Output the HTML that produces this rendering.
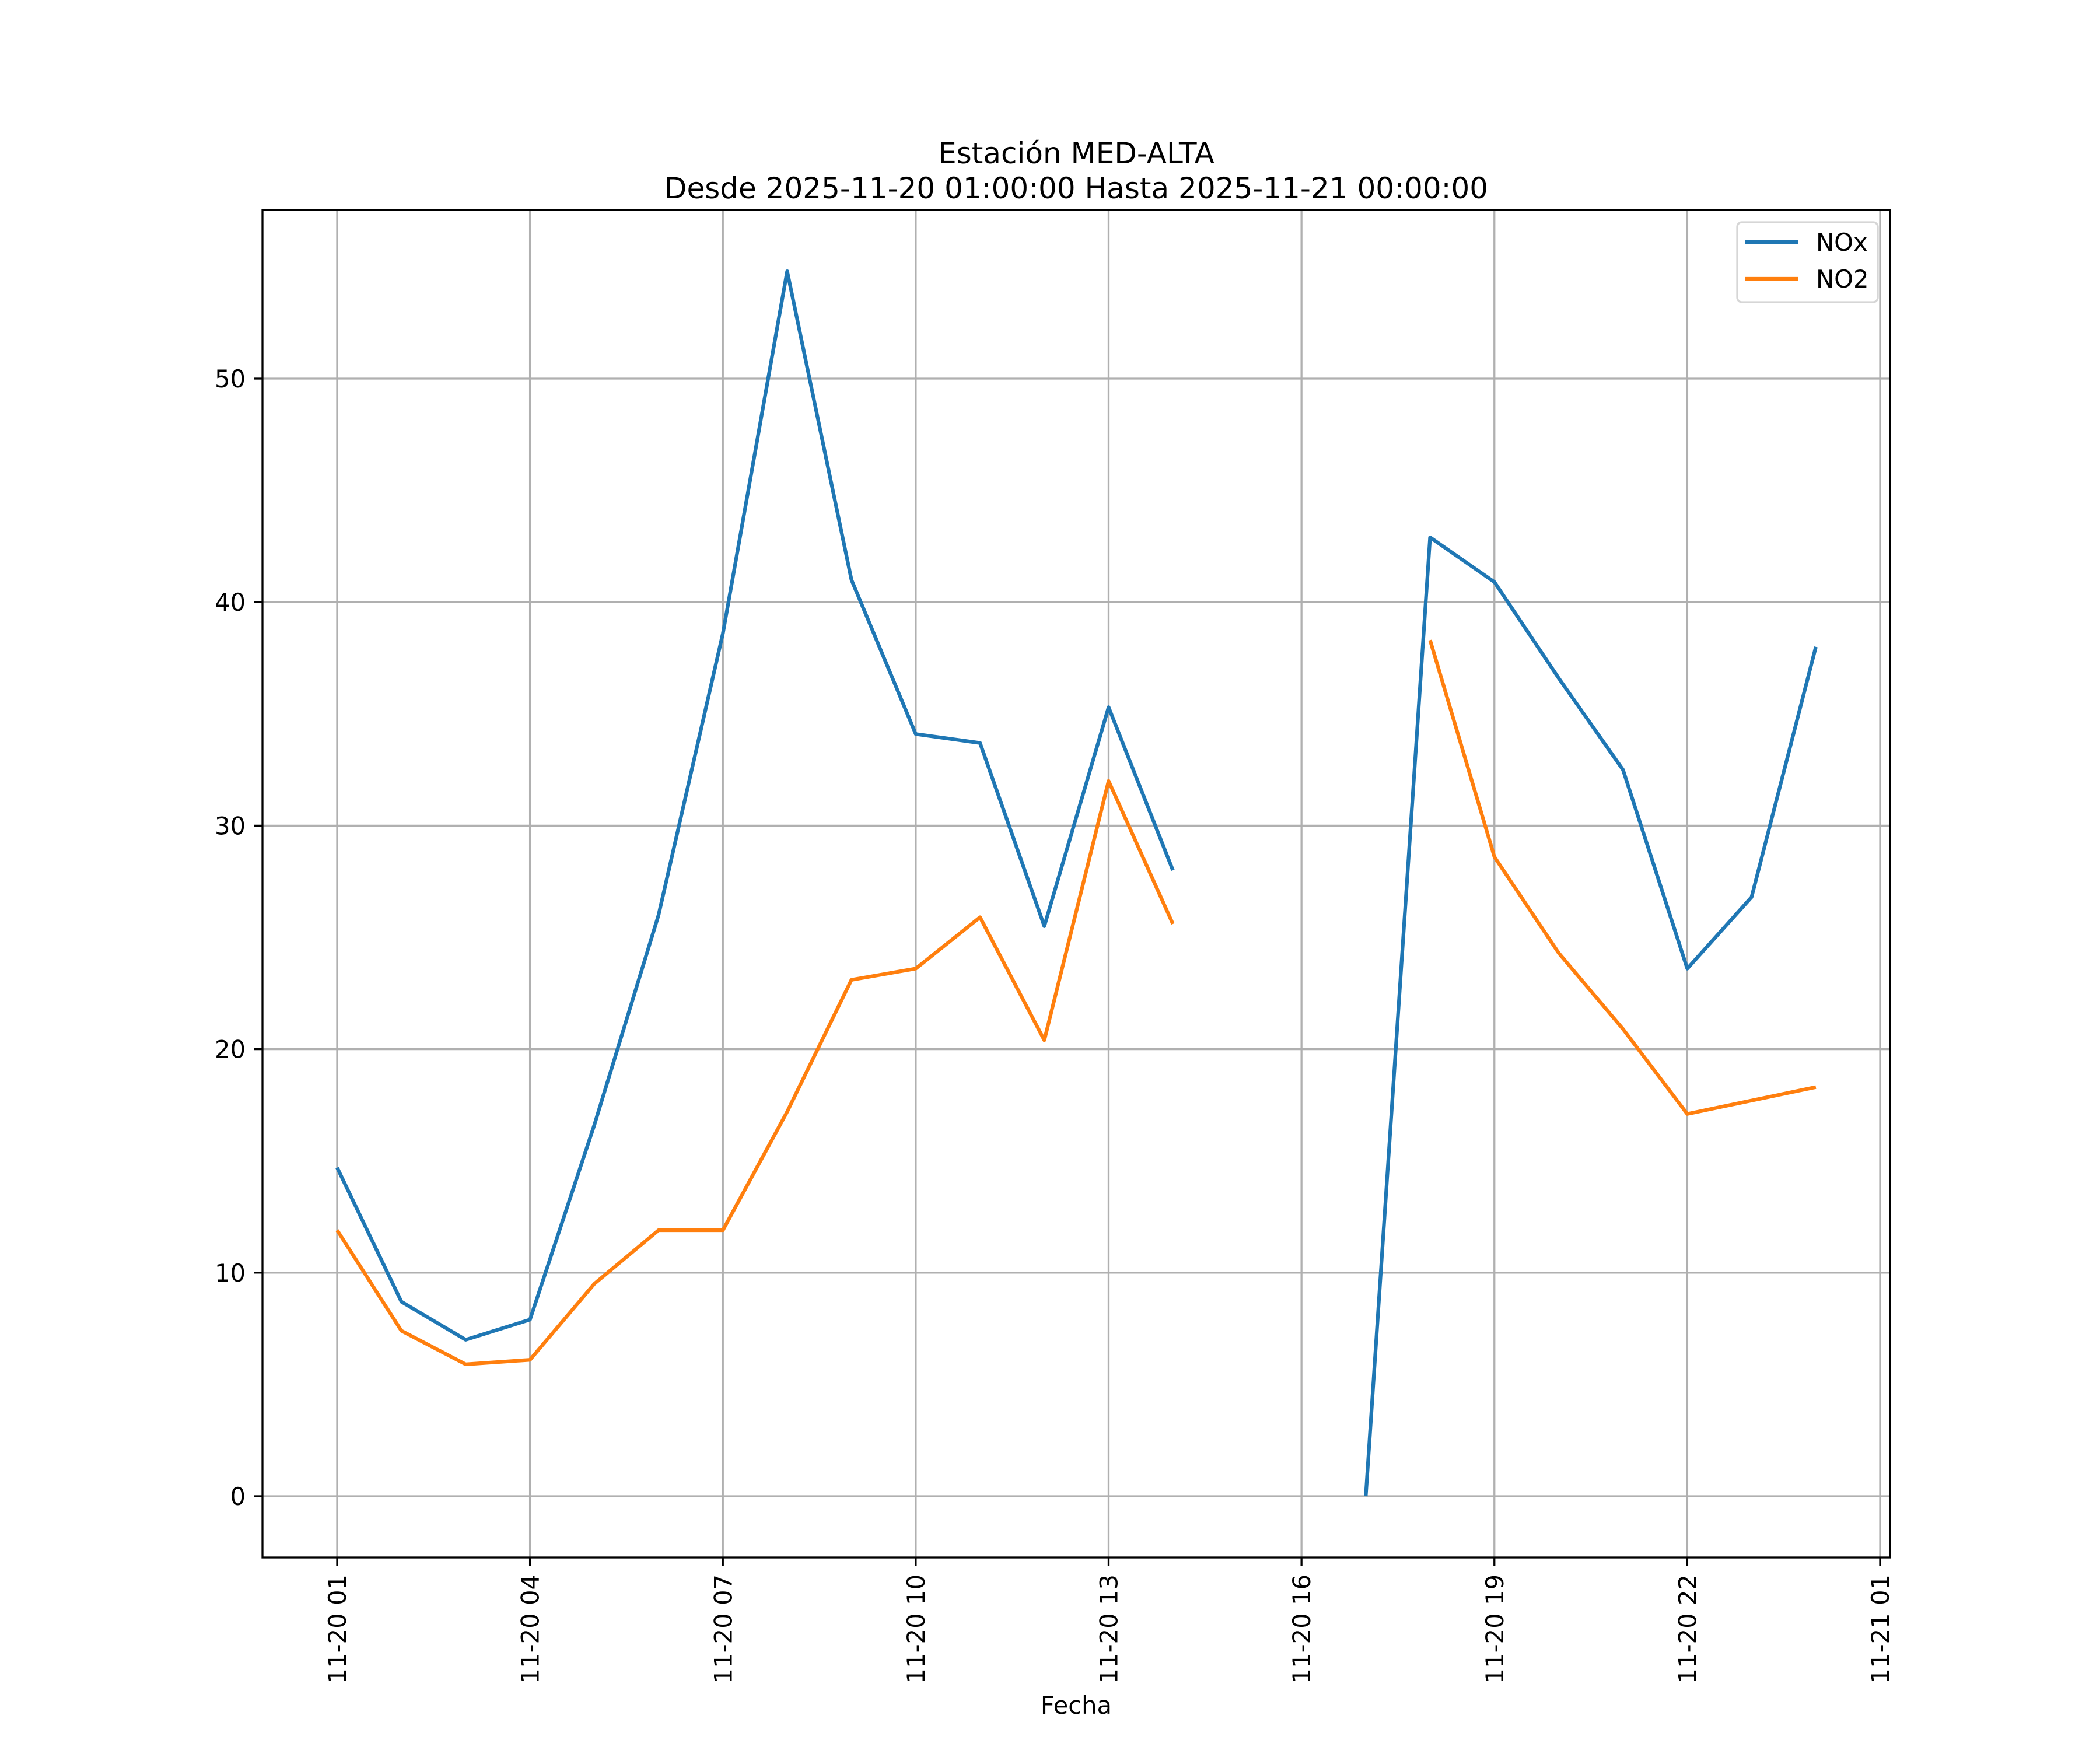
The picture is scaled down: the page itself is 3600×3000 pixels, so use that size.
<!DOCTYPE html>
<html><head><meta charset="utf-8"><style>html,body{margin:0;padding:0;background:#fff}svg{display:block;font-family:"DejaVu Sans","Liberation Sans",sans-serif}</style></head>
<body>
<svg id="chart" width="3600" height="3000" viewBox="0 0 3600 3000" xmlns="http://www.w3.org/2000/svg">
<rect width="3600" height="3000" fill="#fff"/>
<g id="grid"></g>
<g id="series"></g>
<rect x="450" y="360" width="2790" height="2310" fill="none" stroke="#000" stroke-width="3.3"/>
<g id="ticks"></g>
<text x="1845" y="280" font-size="50" text-anchor="middle">Estación MED-ALTA</text>
<text x="1845" y="340" font-size="50" text-anchor="middle">Desde 2025-11-20 01:00:00 Hasta 2025-11-21 00:00:00</text>
<text x="1845" y="2938" font-size="41.7" text-anchor="middle">Fecha</text>
<g>
<rect x="2978" y="381" width="241" height="137" rx="8" fill="#fff" fill-opacity="0.8" stroke="#d6d6d6" stroke-width="3.3"/>
<line x1="2992" y1="415" x2="3082" y2="415" stroke="#1f77b4" stroke-width="6.25"/>
<text x="3113" y="430" font-size="41.7">NOx</text>
<line x1="2992" y1="478" x2="3082" y2="478" stroke="#ff7f0e" stroke-width="6.25"/>
<text x="3113" y="493" font-size="41.7">NO2</text>
</g>
</svg>
<script>
const hours = [1,2,3,4,5,6,7,8,9,10,11,12,13,14,15,16,17,18,19,20,21,22,23,24];
const noxValues = [14.7,8.7,7.0,7.9,16.6,26.0,38.6,54.8,41.0,34.1,33.7,25.5,35.3,28.0,null,null,0,42.9,40.9,36.6,32.5,23.6,26.8,38.0];
const no2Values = [11.9,7.4,5.9,6.1,9.5,11.9,11.9,17.2,23.1,23.6,25.9,20.4,32.0,25.6,null,null,null,38.3,28.6,24.3,20.9,17.1,17.7,18.3];
const xTickHours = [1,4,7,10,13,16,19,22,25];
const xTickLabels = ["11-20 01","11-20 04","11-20 07","11-20 10","11-20 13","11-20 16","11-20 19","11-20 22","11-21 01"];
const yTicks = [0,10,20,30,40,50];

const NS="http://www.w3.org/2000/svg";
function xs(h){return 578+(h-1)*(3223-578)/24;}
function ys(v){return 2565-v*38.32;}
function mk(tag,attrs,parent){const e=document.createElementNS(NS,tag);for(const k in attrs)e.setAttribute(k,attrs[k]);parent.appendChild(e);return e;}
const grid=document.getElementById('grid'),ticks=document.getElementById('ticks'),series=document.getElementById('series');
xTickHours.forEach((h,i)=>{
  const x=xs(h);
  const g=mk('line',{x1:x,y1:360,x2:x,y2:2670,stroke:'#b0b0b0','stroke-width':3.3},grid);
  
  
  const t=mk('line',{x1:x,y1:2670,x2:x,y2:2684.6,stroke:'#000','stroke-width':3.3},ticks);
  
  
  const l=mk('text',{x:0,y:0,'font-size':41.7,'text-anchor':'end',transform:`translate(${x+15},2699) rotate(-90)`},ticks);
  l.textContent=xTickLabels[i];
  
  
});
yTicks.forEach(v=>{
  const y=ys(v);
  const g=mk('line',{x1:450,y1:y,x2:3240,y2:y,stroke:'#b0b0b0','stroke-width':3.3},grid);
  
  
  const t=mk('line',{x1:435.4,y1:y,x2:450,y2:y,stroke:'#000','stroke-width':3.3},ticks);
  
  
  const l=mk('text',{x:421,y:y+15,'font-size':41.7,'text-anchor':'end'},ticks);
  l.textContent=String(v);
  
  
});
function drawSeries(vals,color,name){
  let d='',pen=false;
  vals.forEach((v,i)=>{
    if(v===null){pen=false;return;}
    d+=(pen?'L':'M')+xs(hours[i]).toFixed(1)+','+ys(v).toFixed(1);
    pen=true;
  });
  const p=mk('path',{d:d,fill:'none',stroke:color,'stroke-width':6.25,'stroke-linejoin':'round','stroke-linecap':'butt'},series);
  
  
}
drawSeries(noxValues,'#1f77b4','nox-line');
drawSeries(no2Values,'#ff7f0e','no2-line');
</script>
</body></html>
